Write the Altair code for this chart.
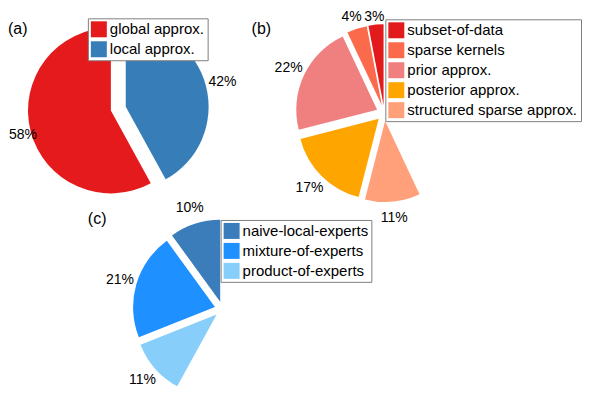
import altair as alt
import pandas as pd

# ---- data ----
a_names = ["global approx.", "local approx."]
a_values = [58, 42]
a_colors = ["#E41A1C", "#377EB8"]

b_names = ["subset-of-data", "sparse kernels", "prior approx.",
           "posterior approx.", "structured sparse approx."]
b_values = [3, 4, 22, 17, 11]
b_colors = ["#E31A1C", "#FB6A4A", "#F08080", "#FFA500", "#FFA07A"]

c_names = ["naive-local-experts", "mixture-of-experts", "product-of-experts"]
c_values = [10, 21, 11]
c_colors = ["#3A7DBA", "#1E90FF", "#87CEFA"]

panel_tags = ["(a)", "(b)", "(c)"]

FONT = "Liberation Sans"
W, H = 574, 382


def pie(names, values, colors, cx, cy, r, d, leg_x, leg_y):
    df = pd.DataFrame({"name": names, "value": values,
                       "order": list(range(len(names)))})
    base = (
        alt.Chart(df)
        .transform_window(cum="sum(value)", sort=[alt.SortField("order")],
                          frame=[None, 0])
        .transform_calculate(a0="-2*PI*(datum.cum - datum.value)/100")
        .transform_calculate(a1="-2*PI*datum.cum/100")
        .transform_calculate(mid="(datum.a0 + datum.a1)/2")
        .transform_calculate(cx=f"{cx} + {d}*sin(datum.mid)")
        .transform_calculate(cy=f"{cy} - {d}*cos(datum.mid)")
        .transform_calculate(lx=f"clamp(datum.cx + {r + 17}*sin(datum.mid), 15, {W - 15})")
        .transform_calculate(ly=f"clamp(datum.cy - {r + 17}*cos(datum.mid), 9, {H - 8})")
        .transform_calculate(label='datum.value + "%"')
    )
    arcs = base.mark_arc(outerRadius=r).encode(
        x=alt.X("cx:Q", scale=None, axis=None),
        y=alt.Y("cy:Q", scale=None, axis=None),
        theta=alt.Theta("a0:Q", scale=None, stack=None),
        theta2="a1:Q",
        color=alt.Color(
            "name:N",
            scale=alt.Scale(domain=names, range=colors),
            legend=alt.Legend(
                title=None, orient="none", legendX=leg_x, legendY=leg_y,
                symbolType="square", symbolSize=256, symbolStrokeWidth=0,
                symbolOpacity=1, labelFontSize=15, labelFont=FONT,
                labelColor="black", labelOffset=3, rowPadding=4, padding=3,
                labelLimit=400, strokeColor="#7f7f7f", fillColor="white",
            ),
        ),
    )
    labels = base.mark_text(fontSize=14, font=FONT, color="black",
                            baseline="middle", align="center").encode(
        x=alt.X("lx:Q", scale=None, axis=None),
        y=alt.Y("ly:Q", scale=None, axis=None),
        text="label:N",
    )
    return arcs, labels


a_arcs, a_labels = pie(a_names, a_values, a_colors, 110.5, 100.5, 83, 7.7, 80, 10)
b_arcs, b_labels = pie(b_names, b_values, b_colors, 377, 105, 81, 8, 378, 11)
c_arcs, c_labels = pie(c_names, c_values, c_colors, 215, 301.5, 82, 8, 213, 212)

tag_marks = [
    alt.Chart(pd.DataFrame({"tag": [t]})).mark_text(
        fontSize=16, font=FONT, color="black", align="left", baseline="alphabetic"
    ).encode(x=alt.value(xv), y=alt.value(yv), text="tag:N")
    for t, xv, yv in zip(panel_tags, [0, 244, 80], [26, 26, 216])
]

chart = (
    alt.layer(a_arcs, a_labels, b_arcs, b_labels, c_arcs, c_labels, *tag_marks)
    .resolve_scale(color="independent")
    .properties(width=W, height=H, padding=0)
    .configure_view(stroke=None)
)

chart.save("out.html", embed_options={"renderer": "svg", "actions": False})
